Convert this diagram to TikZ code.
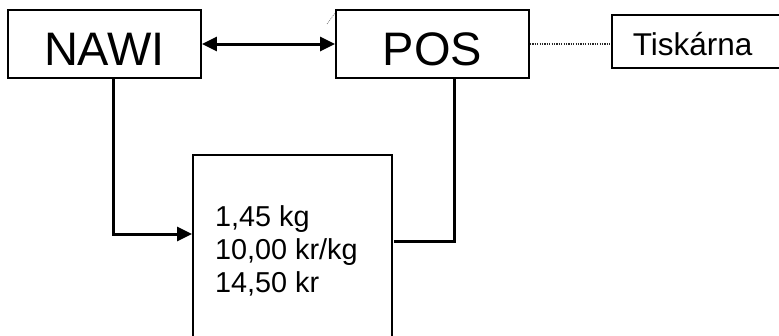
\documentclass[tikz,border=0pt]{standalone}
\usepackage{fontspec}
\setmainfont{Liberation Sans}
\usetikzlibrary{arrows.meta}

\tikzset{
  box/.style={draw=black, line width=1.8pt, inner sep=0pt, fill=white},
  wire/.style={line width=3pt},
  tip/.style={-{Triangle[length=15pt,width=14pt]}},
  tips/.style={{Triangle[length=15pt,width=14pt]}-{Triangle[length=15pt,width=14pt]}},
  dots/.style={line width=1.3pt, dash pattern=on 1.2pt off 1.2pt, black!85},
}

\begin{document}
\begin{tikzpicture}[x=1pt, y=-1pt]
  \useasboundingbox (0,0) rectangle (779,335);
  \clip (0,0) rectangle (779,335);

  % terminal boxes along the top
  \node[box, minimum width=193pt, minimum height=68pt,
        text height=55pt, text depth=13pt,
        font=\fontsize{47}{52}\selectfont] (nawi) at (104.5,44) {NAWI};
  \node[box, minimum width=193pt, minimum height=68pt,
        text height=55pt, text depth=13pt,
        font=\fontsize{47}{52}\selectfont] (pos) at (432.5,44) {POS};
  \node[box, line width=1.5pt, anchor=west, inner xsep=21pt,
        text width=160pt, align=left,
        text height=40pt, text depth=13pt,
        font=\fontsize{31.5}{36}\selectfont] (tisk) at (611,41.5) {Tiskárna};

  % scale display box, running past the lower edge
  \node[box, anchor=north west, minimum width=199pt, minimum height=220pt]
        (scale) at (192,154) {};
  \node[anchor=north west, inner sep=0pt, align=left,
        font=\fontsize{28.8}{33.3}\selectfont] (reading) at (215,205)
        {1,45 kg\\10,00 kr/kg\\14,50 kr};

  % connections
  \draw[wire, tips] (nawi.east) -- (pos.west);
  \draw[dots] (pos.east) -- (tisk.west |- pos.east);
  \draw[wire, tip] ([xshift=8.5pt]nawi.south) |- ([yshift=-80pt]scale.north west);
  \draw[wire] ([xshift=21.5pt]pos.south) |- ([xshift=1pt,yshift=-87pt]scale.north east);

  % small dotted stroke at the corner of POS
  \coordinate (nickA) at (327,24);
  \coordinate (nickB) at (335,13);
  \draw[black!60, line width=0.6pt, dash pattern=on 1pt off 1pt] (nickA) -- (nickB);
\end{tikzpicture}
\end{document}
